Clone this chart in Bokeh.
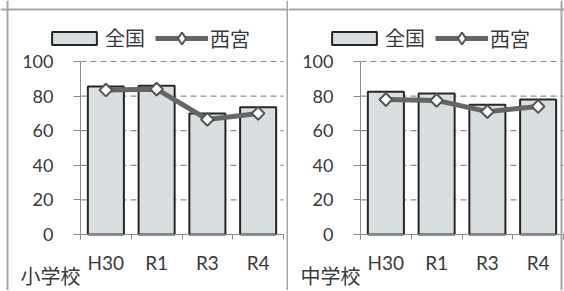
from bokeh.plotting import figure
from bokeh.models import Legend, LegendItem, FixedTicker, Label, Range1d, Span
from bokeh.layouts import row
from bokeh.embed import file_html
from bokeh.resources import INLINE

categories = ["H30", "R1", "R3", "R4"]
elem_national = [85.5, 86.0, 70.0, 73.5]
elem_nishinomiya = [83.5, 84.0, 66.5, 70.0]
junior_national = [82.5, 81.5, 75.0, 78.0]
junior_nishinomiya = [78.0, 77.5, 71.0, 74.0]
y_ticks = [0, 20, 40, 60, 80, 100]
series_names = ["全国", "西宮"]
panel_titles = ["小学校", "中学校"]

JP = "Noto Sans CJK JP"
NUM = "Lato"
TXT = "#3a3a3a"
AX = "#8c8c8c"
BORDER = "#a6a6a6"

H = 290
PX_X = 50.75           # pixels per category
PX_Y = 1.73            # pixels per y unit
Y_ZERO_PX = 234        # pixel row of y = 0 (from top)
Y_MAX = 100


def make_panel(national, local, title, width, axis_px, borders):
    n = len(categories)
    x_range = Range1d(-axis_px / PX_X, n + (width - axis_px - n * PX_X) / PX_X)
    y_range = Range1d(-(H - Y_ZERO_PX) / PX_Y, Y_ZERO_PX / PX_Y)
    p = figure(width=width, height=H, x_range=x_range, y_range=y_range,
               output_backend="svg", toolbar_location=None, min_border=0,
               outline_line_color=None, background_fill_color="white",
               border_fill_color="white")
    xs = [i + 0.5 for i in range(n)]

    # dashed horizontal gridlines over the category span only
    p.segment(x0=[0] * len(y_ticks), x1=[n] * len(y_ticks), y0=y_ticks, y1=y_ticks,
              line_color="#8f8f8f", line_dash="6 4", line_width=1.2)

    bars = p.vbar(x=xs, top=national, width=0.71, fill_color="#d9dee1",
                  line_color="#262626", line_width=2)
    line = p.line(xs, local, line_color="#666666", line_width=5)
    # diamond used for the legend sample (hidden beneath the plot markers)
    legend_pts = p.scatter(xs, local, marker="diamond", size=7,
                           fill_color="white", line_color="#555555", line_width=2)
    p.scatter(xs, local, marker="square", angle=0.785398, size=9,
              fill_color="white", line_color="#555555", line_width=2)

    # y axis
    yax = p.yaxis[0]
    yax.fixed_location = 0
    yax.bounds = (0, Y_MAX)
    yax.ticker = FixedTicker(ticks=y_ticks, minor_ticks=[])
    yax.major_tick_out = 7
    yax.major_tick_in = 0
    yax.axis_line_color = AX
    yax.major_tick_line_color = AX
    yax.major_label_standoff = 20
    yax.major_label_text_font = NUM
    yax.major_label_text_font_size = "18px"
    yax.major_label_text_color = TXT

    # x axis: labels at centres, ticks at category boundaries
    xax = p.xaxis[0]
    xax.fixed_location = 0
    xax.bounds = (0, n)
    xax.ticker = FixedTicker(ticks=xs, minor_ticks=list(range(n + 1)))
    xax.major_label_overrides = {x: c for x, c in zip(xs, categories)}
    xax.major_tick_out = 0
    xax.major_tick_in = 0
    xax.minor_tick_out = 5
    xax.minor_tick_in = 0
    xax.minor_tick_line_color = AX
    xax.axis_line_color = AX
    xax.major_label_standoff = 11
    xax.major_label_text_font = NUM
    xax.major_label_text_font_size = "19px"
    xax.major_label_text_color = TXT

    p.xgrid.visible = False
    p.ygrid.visible = False

    common = dict(orientation="horizontal", padding=0, margin=0, spacing=0,
                  border_line_color=None, background_fill_alpha=0,
                  label_text_font=JP, label_text_font_size="20px",
                  label_text_color=TXT)
    leg1 = Legend(items=[LegendItem(label=series_names[0], renderers=[bars])],
                  location=(axis_px - 34, 238), glyph_width=56, glyph_height=16,
                  label_standoff=3, **common)
    leg2 = Legend(items=[LegendItem(label=series_names[1], renderers=[line, legend_pts])],
                  location=(axis_px + 75, 237), glyph_width=53, glyph_height=30,
                  label_standoff=2, **common)
    p.add_layout(leg1)
    p.add_layout(leg2)

    p.add_layout(Label(x=axis_px - 60, y=15, x_units="screen", y_units="screen",
                       text=title, text_font=JP, text_font_size="20px",
                       text_color=TXT, text_baseline="alphabetic"))

    # panel border (left / top / right)
    for loc in borders:
        p.add_layout(Span(location=loc, dimension="height", location_units="screen",
                          line_color=BORDER, line_width=2))
    p.add_layout(Span(location=H - 9, dimension="width", location_units="screen",
                      line_color=BORDER, line_width=2))
    return p


p1 = make_panel(elem_national, elem_nishinomiya, panel_titles[0], 288, 80, [7, 287])
p2 = make_panel(junior_national, junior_nishinomiya, panel_titles[1], 276, 72, [273])
layout = row(p1, p2)

open("out.html", "w").write(file_html(layout, INLINE))
